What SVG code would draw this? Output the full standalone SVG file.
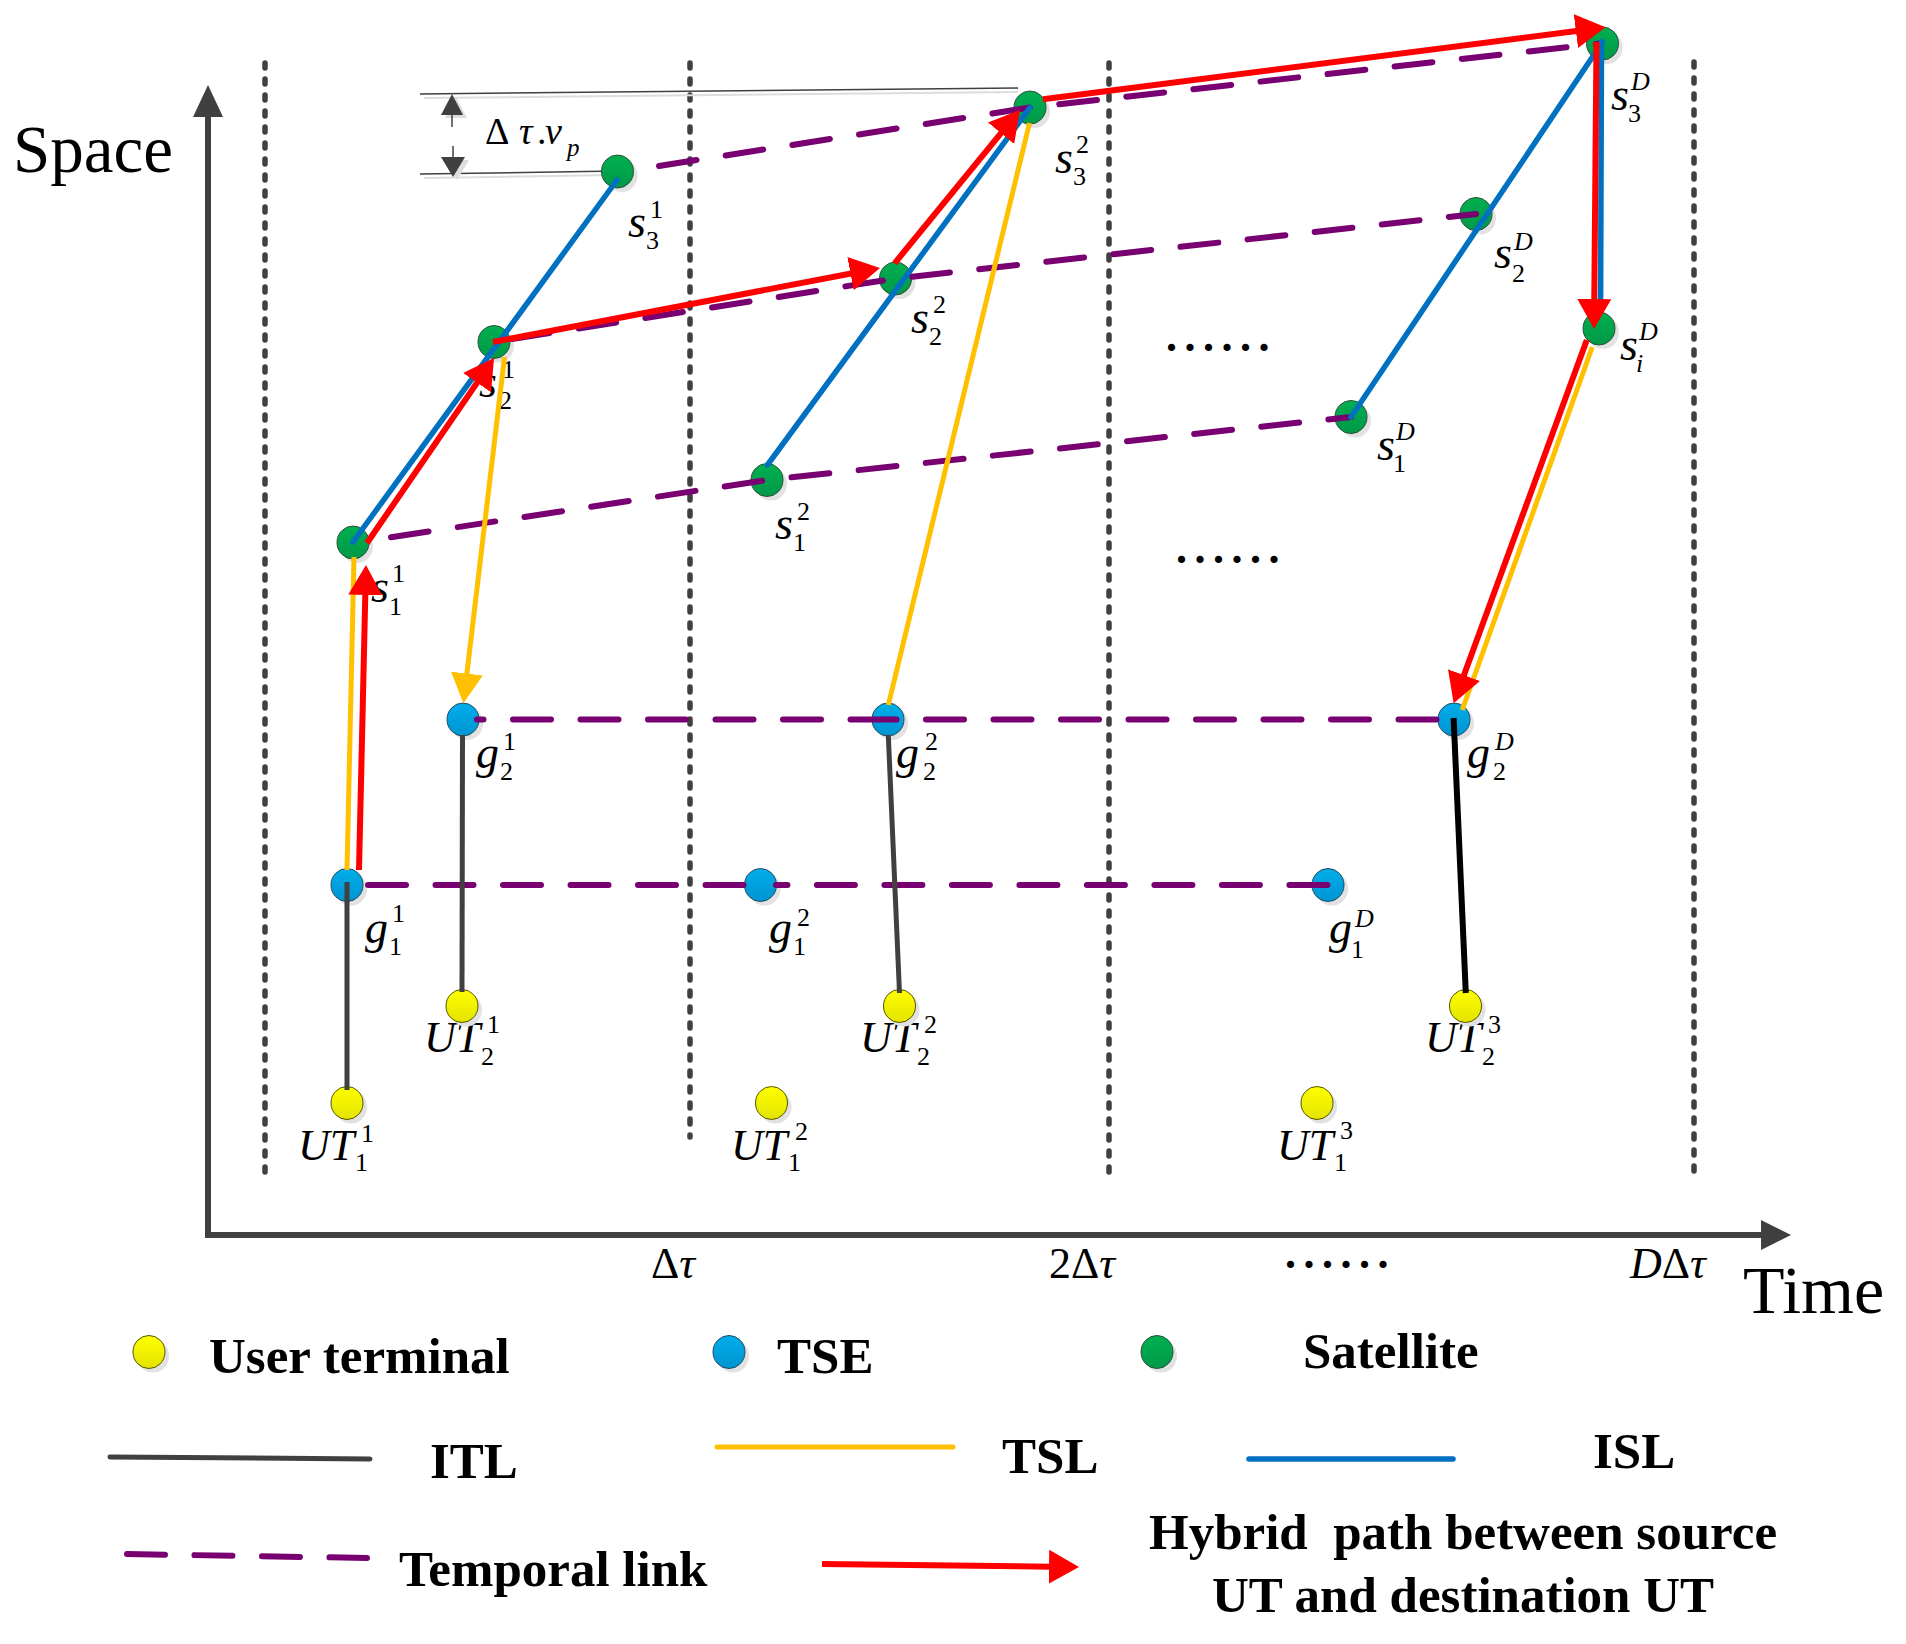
<svg xmlns="http://www.w3.org/2000/svg" width="1906" height="1644" viewBox="0 0 1906 1644">
<style>
.bg{fill:#FFFFFF}
.axis{stroke:#404040;stroke-width:6;fill:none}
.axh{fill:#404040}
.dot{fill:none;stroke:#404040;stroke-width:5.5;stroke-dasharray:5 11;stroke-linecap:round}
.tmp{fill:none;stroke:#780070;stroke-width:6;stroke-dasharray:38 29.5;stroke-linecap:round}
.isl{fill:none;stroke:#0070C0;stroke-width:5.5;stroke-linecap:round}
.tsl{fill:none;stroke:#FFC000;stroke-width:5}
.itl{fill:none;stroke:#404040;stroke-width:5}
.itlb{fill:none;stroke:#000000;stroke-width:6}
.hp{fill:none;stroke:#FF0000;stroke-width:6}
.sh{fill:#E2E2E2}
.sat{fill:url(#gg);stroke:#2F4F3A;stroke-width:1}
.tse{fill:url(#gb);stroke:#2A4A60;stroke-width:1}
.ut{fill:url(#gy);stroke:#555500;stroke-width:1}
.lb{font-family:"Liberation Serif","Times New Roman",serif;fill:#000}
.m{font-size:46px;font-style:italic}
.u{font-size:44px;font-style:italic}
.n{font-size:26px;font-style:normal}
.ni{font-size:26px;font-style:italic}
.ax{font-family:"Liberation Serif","Times New Roman",serif;font-size:44px;fill:#000}
.big{font-family:"Liberation Serif","Times New Roman",serif;fill:#000}
.leg{font-family:"Liberation Serif","Times New Roman",serif;font-weight:bold;font-size:51px;fill:#000}
.ell{font-family:"Liberation Serif","Times New Roman",serif;font-weight:bold;font-size:44px;letter-spacing:7.5px;fill:#000}
.meas{stroke:#404040;stroke-width:1.5;fill:none}
.meash{stroke:#DDDDDD;stroke-width:2;fill:none}
</style>
<defs>
<linearGradient id="gy" x1="0" y1="0" x2="0" y2="1"><stop offset="0" stop-color="#FFFF00"/><stop offset="1" stop-color="#E3E300"/></linearGradient>
<linearGradient id="gb" x1="0" y1="0" x2="0" y2="1"><stop offset="0" stop-color="#00AEEA"/><stop offset="1" stop-color="#0094D2"/></linearGradient>
<linearGradient id="gg" x1="0" y1="0" x2="0" y2="1"><stop offset="0" stop-color="#00B050"/><stop offset="1" stop-color="#009848"/></linearGradient>
<marker id="ar" viewBox="0 0 30 34" refX="22" refY="17" markerWidth="30" markerHeight="34" markerUnits="userSpaceOnUse" orient="auto"><path d="M0,0 L30,17 L0,34 Z" fill="#FF0000"/></marker>
<marker id="ay" viewBox="0 0 30 32" refX="22" refY="16" markerWidth="30" markerHeight="32" markerUnits="userSpaceOnUse" orient="auto"><path d="M0,0 L30,16 L0,32 Z" fill="#FFC000"/></marker>
</defs>
<rect class="bg" x="0" y="0" width="1906" height="1644"/>

<g id="frame">
<line class="dot" x1="265" y1="63" x2="265" y2="1183"/>
<line class="dot" x1="690" y1="63" x2="690" y2="1137"/>
<line class="dot" x1="1109" y1="63" x2="1109" y2="1183"/>
<line class="dot" x1="1694" y1="62" x2="1694" y2="1180"/>
<polyline class="axis" points="208,115 208,1235 1764,1235"/>
<polygon class="axh" points="208,85 193,117 223,117"/>
<polygon class="axh" points="1791,1235 1761,1220 1761,1250"/>
<text class="big" x="13" y="172" font-size="67">Space</text>
<text class="big" x="1743" y="1313" font-size="68">Time</text>
<text class="ax" x="651" y="1278">Δ<tspan font-style="italic">τ</tspan></text>
<text class="ax" x="1049" y="1278">2Δ<tspan font-style="italic">τ</tspan></text>
<text class="ax" x="1630" y="1278"><tspan font-style="italic">D</tspan>Δ<tspan font-style="italic">τ</tspan></text>
<text class="ell" x="1285" y="1268">......</text>
<text class="ell" x="1166" y="351">......</text>
<text class="ell" x="1176" y="563">......</text>
</g>

<g id="measure">
<line class="meash" x1="424" y1="98" x2="1018" y2="92"/>
<line class="meash" x1="424" y1="178" x2="612" y2="175"/>
<line class="meas" x1="420" y1="94" x2="1018" y2="88"/>
<line class="meas" x1="420" y1="174" x2="617" y2="171"/>
<polygon fill="#DDDDDD" points="456,97 445,118 467,118"/>
<polygon fill="#DDDDDD" points="457,180 445,160 469,160"/>
<line class="meas" x1="452" y1="114" x2="452" y2="127"/>
<polygon fill="#404040" points="452,94 441,115 463,115"/>
<line class="meas" x1="453" y1="146" x2="453" y2="158"/>
<polygon fill="#404040" points="453,177 441,157 465,157"/>
<text class="lb" y="144" font-size="38"><tspan x="485">Δ</tspan><tspan x="519" font-style="italic">τ</tspan><tspan x="537">.</tspan><tspan x="545" font-style="italic">v</tspan><tspan x="567" y="156" font-size="25" font-style="italic">p</tspan></text>
</g>

<g id="s1_1"><ellipse class="sh" cx="357" cy="546.5" rx="16" ry="16.5"/><ellipse class="sat" cx="353" cy="542.5" rx="16" ry="16.5"/><text class="lb"><tspan class="m" x="371" y="602">s</tspan><tspan class="n" x="392" y="582">1</tspan><tspan class="n" x="389" y="615">1</tspan></text></g>
<g id="s2_1"><ellipse class="sh" cx="498" cy="346" rx="16" ry="16.5"/><ellipse class="sat" cx="494" cy="342" rx="16" ry="16.5"/><text class="lb"><tspan class="m" x="479" y="397">s</tspan><tspan class="n" x="502" y="378">1</tspan><tspan class="n" x="499" y="409">2</tspan></text></g>
<g id="s3_1"><ellipse class="sh" cx="621.5" cy="175.5" rx="16" ry="16.5"/><ellipse class="sat" cx="617.5" cy="171.5" rx="16" ry="16.5"/><text class="lb"><tspan class="m" x="628" y="237">s</tspan><tspan class="n" x="650" y="218">1</tspan><tspan class="n" x="646" y="249">3</tspan></text></g>
<g id="s1_2"><ellipse class="sh" cx="771" cy="484" rx="16" ry="16.5"/><ellipse class="sat" cx="767" cy="480" rx="16" ry="16.5"/><text class="lb"><tspan class="m" x="775" y="539">s</tspan><tspan class="n" x="797" y="520">2</tspan><tspan class="n" x="793" y="551">1</tspan></text></g>
<g id="s2_2"><ellipse class="sh" cx="899.5" cy="282.5" rx="16" ry="16.5"/><ellipse class="sat" cx="895.5" cy="278.5" rx="16" ry="16.5"/><text class="lb"><tspan class="m" x="911" y="333">s</tspan><tspan class="n" x="933" y="313">2</tspan><tspan class="n" x="929" y="345">2</tspan></text></g>
<g id="s3_2"><ellipse class="sh" cx="1034" cy="111.5" rx="16" ry="16.5"/><ellipse class="sat" cx="1030" cy="107.5" rx="16" ry="16.5"/><text class="lb"><tspan class="m" x="1055" y="173">s</tspan><tspan class="n" x="1076" y="153">2</tspan><tspan class="n" x="1073" y="185">3</tspan></text></g>
<g id="s1_D"><ellipse class="sh" cx="1355" cy="421" rx="16" ry="16.5"/><ellipse class="sat" cx="1351" cy="417" rx="16" ry="16.5"/><text class="lb"><tspan class="m" x="1377" y="460">s</tspan><tspan class="ni" x="1396" y="440">D</tspan><tspan class="n" x="1393" y="472">1</tspan></text></g>
<g id="s2_D"><ellipse class="sh" cx="1480" cy="218" rx="16" ry="16.5"/><ellipse class="sat" cx="1476" cy="214" rx="16" ry="16.5"/><text class="lb"><tspan class="m" x="1494" y="268">s</tspan><tspan class="ni" x="1514" y="250">D</tspan><tspan class="n" x="1512" y="282">2</tspan></text></g>
<g id="s3_D"><ellipse class="sh" cx="1606.5" cy="47.5" rx="16" ry="16.5"/><ellipse class="sat" cx="1602.5" cy="43.5" rx="16" ry="16.5"/><text class="lb"><tspan class="m" x="1611" y="110">s</tspan><tspan class="ni" x="1631" y="90">D</tspan><tspan class="n" x="1628" y="122">3</tspan></text></g>
<g id="si_D"><ellipse class="sh" cx="1603" cy="332.5" rx="16" ry="16.5"/><ellipse class="sat" cx="1599" cy="328.5" rx="16" ry="16.5"/><text class="lb"><tspan class="m" x="1620" y="360">s</tspan><tspan class="ni" x="1639" y="340">D</tspan><tspan class="ni" x="1636" y="372">i</tspan></text></g>

<g id="g1_1"><ellipse class="sh" cx="351" cy="889" rx="16" ry="16.5"/><ellipse class="tse" cx="347" cy="885" rx="16" ry="16.5"/><text class="lb"><tspan class="m" x="365" y="943">g</tspan><tspan class="n" x="392" y="922">1</tspan><tspan class="n" x="389" y="955">1</tspan></text></g>
<g id="g1_2"><ellipse class="sh" cx="764.5" cy="889" rx="16" ry="16.5"/><ellipse class="tse" cx="760.5" cy="885" rx="16" ry="16.5"/><text class="lb"><tspan class="m" x="769" y="943">g</tspan><tspan class="n" x="797" y="926">2</tspan><tspan class="n" x="793" y="955">1</tspan></text></g>
<g id="g1_D"><ellipse class="sh" cx="1332" cy="889" rx="16" ry="16.5"/><ellipse class="tse" cx="1328" cy="885" rx="16" ry="16.5"/><text class="lb"><tspan class="m" x="1329" y="943">g</tspan><tspan class="ni" x="1355" y="927">D</tspan><tspan class="n" x="1351" y="958">1</tspan></text></g>
<g id="g2_1"><ellipse class="sh" cx="467" cy="723.5" rx="16" ry="16.5"/><ellipse class="tse" cx="463" cy="719.5" rx="16" ry="16.5"/><text class="lb"><tspan class="m" x="476" y="768">g</tspan><tspan class="n" x="503" y="750">1</tspan><tspan class="n" x="500" y="780">2</tspan></text></g>
<g id="g2_2"><ellipse class="sh" cx="892" cy="723.5" rx="16" ry="16.5"/><ellipse class="tse" cx="888" cy="719.5" rx="16" ry="16.5"/><text class="lb"><tspan class="m" x="896" y="768">g</tspan><tspan class="n" x="925" y="750">2</tspan><tspan class="n" x="923" y="780">2</tspan></text></g>
<g id="g2_D"><ellipse class="sh" cx="1458" cy="723.5" rx="16" ry="16.5"/><ellipse class="tse" cx="1454" cy="719.5" rx="16" ry="16.5"/><text class="lb"><tspan class="m" x="1467" y="768">g</tspan><tspan class="ni" x="1495" y="750">D</tspan><tspan class="n" x="1493" y="780">2</tspan></text></g>

<g id="UT1_1"><ellipse class="sh" cx="351" cy="1107" rx="16" ry="16.5"/><ellipse class="ut" cx="347" cy="1103" rx="16" ry="16.5"/><text class="lb"><tspan class="u" x="298" y="1160">UT</tspan><tspan class="n" x="361" y="1142">1</tspan><tspan class="n" x="355" y="1171">1</tspan></text></g>
<g id="UT1_2"><ellipse class="sh" cx="775.5" cy="1107" rx="16" ry="16.5"/><ellipse class="ut" cx="771.5" cy="1103" rx="16" ry="16.5"/><text class="lb"><tspan class="u" x="731" y="1160">UT</tspan><tspan class="n" x="795" y="1140">2</tspan><tspan class="n" x="788" y="1171">1</tspan></text></g>
<g id="UT1_3"><ellipse class="sh" cx="1321" cy="1107" rx="16" ry="16.5"/><ellipse class="ut" cx="1317" cy="1103" rx="16" ry="16.5"/><text class="lb"><tspan class="u" x="1277" y="1160">UT</tspan><tspan class="n" x="1340" y="1139">3</tspan><tspan class="n" x="1334" y="1171">1</tspan></text></g>
<g id="UT2_1"><text class="lb"><tspan class="u" x="424" y="1052">UT</tspan><tspan class="n" x="487" y="1033">1</tspan><tspan class="n" x="481" y="1065">2</tspan></text><ellipse class="sh" cx="466" cy="1010" rx="16" ry="16.5"/><ellipse class="ut" cx="462" cy="1006" rx="16" ry="16.5"/></g>
<g id="UT2_2"><text class="lb"><tspan class="u" x="860" y="1052">UT</tspan><tspan class="n" x="924" y="1033">2</tspan><tspan class="n" x="917" y="1065">2</tspan></text><ellipse class="sh" cx="903.5" cy="1010" rx="16" ry="16.5"/><ellipse class="ut" cx="899.5" cy="1006" rx="16" ry="16.5"/></g>
<g id="UT2_3"><text class="lb"><tspan class="u" x="1425" y="1052">UT</tspan><tspan class="n" x="1488" y="1033">3</tspan><tspan class="n" x="1482" y="1065">2</tspan></text><ellipse class="sh" cx="1469.5" cy="1010" rx="16" ry="16.5"/><ellipse class="ut" cx="1465.5" cy="1006" rx="16" ry="16.5"/></g>

<g id="connectors">
<line class="tmp" x1="368" y1="885" x2="758" y2="885"/>
<line class="tmp" x1="776" y1="885" x2="1329" y2="885" stroke-dashoffset="26.6"/>
<line class="tmp" x1="477" y1="719.5" x2="888" y2="719.5" stroke-dashoffset="31.5"/>
<line class="tmp" x1="888" y1="719.5" x2="1454" y2="719.5" stroke-dashoffset="29.5"/>
<polyline class="tmp" points="391,537.3 767,480 1351,417"/>
<polyline class="tmp" points="512,339 895.5,278.5 1476,214"/>
<polyline class="tmp" points="659,166 1030,107.5 1600,43.5"/>

<line class="itl" x1="347" y1="882" x2="347" y2="1090"/>
<line class="itl" x1="462.5" y1="735" x2="462" y2="992"/>
<line class="itl" x1="888.3" y1="735" x2="899.5" y2="993"/>
<line class="itlb" x1="1453.6" y1="718" x2="1465.8" y2="993"/>

<line class="tsl" x1="347" y1="870" x2="354" y2="557"/>
<line class="tsl" x1="504.5" y1="357" x2="464.3" y2="695.4" marker-end="url(#ay)"/>
<line class="tsl" x1="1029.5" y1="123" x2="888.3" y2="705"/>
<line class="tsl" x1="1592.3" y1="347" x2="1462.2" y2="710"/>

<line class="isl" x1="353" y1="542" x2="617" y2="180"/>
<line class="isl" x1="767.4" y1="465" x2="1030" y2="107.5"/>
<line class="isl" x1="1351" y1="417" x2="1602.5" y2="42"/>
<line class="isl" x1="1601.5" y1="42" x2="1600.6" y2="301"/>

<line class="hp" x1="359" y1="870" x2="365.8" y2="573" marker-end="url(#ar)"/>
<line class="hp" x1="367" y1="543" x2="489.5" y2="364.6" marker-end="url(#ar)"/>
<line class="hp" x1="493" y1="342" x2="872.1" y2="269.5" marker-end="url(#ar)"/>
<line class="hp" x1="894.6" y1="263.3" x2="1014.9" y2="116.2" marker-end="url(#ar)"/>
<line class="hp" x1="1042.9" y1="99.3" x2="1597.7" y2="28.3" marker-end="url(#ar)"/>
<line class="hp" x1="1596.5" y1="42" x2="1594.1" y2="321" marker-end="url(#ar)"/>
<line class="hp" x1="1586.8" y1="340" x2="1456.4" y2="695.8" marker-end="url(#ar)"/>
</g>

<g id="legend">
<g id="leg-ut"><ellipse class="sh" cx="153" cy="1356" rx="16" ry="16.5"/><ellipse class="ut" cx="149" cy="1352" rx="16" ry="16.5"/><text class="leg" x="209" y="1373">User terminal</text></g>
<g id="leg-tse"><ellipse class="sh" cx="733" cy="1356" rx="16" ry="16.5"/><ellipse class="tse" cx="729" cy="1352" rx="16" ry="16.5"/><text class="leg" x="777" y="1373">TSE</text></g>
<g id="leg-sat"><ellipse class="sh" cx="1161" cy="1356" rx="16" ry="16.5"/><ellipse class="sat" cx="1157" cy="1352" rx="16" ry="16.5"/><text class="leg" x="1303" y="1368">Satellite</text></g>
<g id="leg-itl"><line class="itl" x1="110" y1="1457" x2="370" y2="1459" stroke-linecap="round"/><text class="leg" x="430" y="1478">ITL</text></g>
<g id="leg-tsl"><line class="tsl" x1="717" y1="1447" x2="953" y2="1447" stroke-linecap="round"/><text class="leg" x="1002" y="1473">TSL</text></g>
<g id="leg-isl"><line class="isl" x1="1249" y1="1459" x2="1453" y2="1459"/><text class="leg" x="1593" y="1468">ISL</text></g>
<g id="leg-tmp"><line class="tmp" x1="127" y1="1554" x2="367" y2="1558"/><text class="leg" x="399" y="1586">Temporal link</text></g>
<g id="leg-hp"><line class="hp" x1="822" y1="1564" x2="1071" y2="1567" marker-end="url(#ar)"/><text class="leg" x="1463" y="1549" text-anchor="middle" style="white-space:pre">Hybrid  path between source</text><text class="leg" x="1463" y="1612" text-anchor="middle">UT and destination UT</text></g>
</g>
</svg>
